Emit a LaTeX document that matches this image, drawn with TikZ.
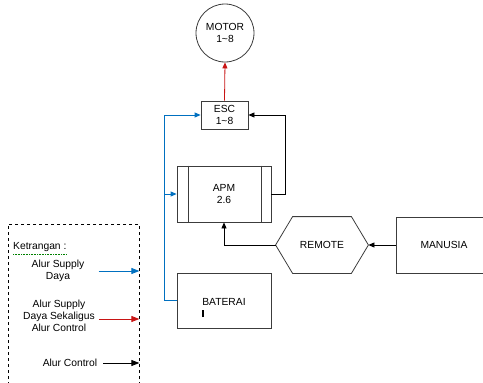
\documentclass[tikz,border=0pt]{standalone}
\usepackage{fontspec}
\setmainfont{Liberation Sans}
\usetikzlibrary{arrows.meta, positioning}

\definecolor{supplyblue}{RGB}{0,112,192}
\definecolor{supplyred}{RGB}{200,20,20}
\definecolor{linegray}{RGB}{60,60,60}

\begin{document}
\begin{tikzpicture}[
    x=1pt, y=-1pt,
    font=\fontsize{10.3}{12}\selectfont,
    process/.style={rectangle, draw=linegray, line width=0.8pt, text centered, align=center, inner sep=0pt},
    arrow/.style={-{Triangle[length=6pt,width=5pt]}, line width=0.8pt, draw=black},
    supply/.style={arrow, draw=supplyblue},
    supplyctrl/.style={arrow, draw=supplyred},
    legendtext/.style={align=center, inner sep=0pt}
]
    \useasboundingbox (0,0) rectangle (483,383);

    % main blocks
    \node[process, circle, minimum size=58pt] (motor) at (225,33) {MOTOR\\1\textasciitilde8};
    \node[process, minimum width=47pt, minimum height=28pt] (esc) at (224.5,115) {ESC\\1\textasciitilde8};
    \node[process, minimum width=94pt, minimum height=56pt] (apm) at (224,194) {APM\\2.6};
    \draw[linegray, line width=0.8pt] ([xshift=12pt]apm.north west) -- ([xshift=12pt]apm.south west)
        ([xshift=-10pt]apm.north east) -- ([xshift=-10pt]apm.south east);
    \node[process, draw=none, minimum width=92pt, minimum height=56pt] (remote) at (322,245) {REMOTE};
    \draw[linegray, line width=0.8pt] (remote.west) -- ([xshift=17pt]remote.north west)
        -- ([xshift=-17pt]remote.north east) -- (remote.east)
        -- ([xshift=-17pt]remote.south east) -- ([xshift=17pt]remote.south west) -- cycle;
    \node[process, minimum width=96pt, minimum height=56pt] (manusia) at (444,245) {MANUSIA};
    \node[process, minimum width=94pt, minimum height=55pt, align=left] (baterai) at (224,300.5) {\rule{0pt}{21pt}BATERAI\\[0pt]\rule{1.6pt}{7pt}};

    % connectors
    \coordinate (bus) at (164,115);
    \draw[supplyctrl] (esc.north) -- (motor.south);
    \draw[supply] (baterai.west) -| (bus) -- (esc.west);
    \draw[supply] (bus |- apm.west) -- (apm.west);
    \draw[arrow] (apm.east) -- ++(14,0) |- (esc.east);
    \draw[arrow] (manusia.west) -- (remote.east);
    \draw[arrow] (remote.west) -| (apm.south);

    % keterangan
    \node[draw=black, dashed, line width=0.7pt, minimum width=131pt, minimum height=180pt, inner sep=0pt] (legend) at (73.5,314) {};
    \node[anchor=west, inner sep=0pt] (judul) at (13,247) {Ketrangan :};
    \draw[green!50!black, densely dotted, line width=0.6pt] ([yshift=-2pt]judul.south west) -- ([yshift=-2pt]judul.south east);
    \node[legendtext] (daya) at (58,271) {Alur Supply\\Daya};
    \node[legendtext] (sekaligus) at (59,316) {Alur Supply\\Daya Sekaligus\\Alur Control};
    \node[legendtext] (kontrol) at (70,363) {Alur Control};
    \draw[supply, -{Triangle[length=8pt,width=6pt]}] ([xshift=14pt]daya.east) -- (daya -| legend.east);
    \draw[supplyctrl, -{Triangle[length=8pt,width=6pt]}] ([xshift=4pt,yshift=-3pt]sekaligus.east) -- ([yshift=-3pt]sekaligus.east -| legend.east);
    \draw[arrow, -{Triangle[length=8pt,width=6pt]}] ([xshift=6pt]kontrol.east) -- (kontrol -| legend.east);
\end{tikzpicture}
\end{document}
